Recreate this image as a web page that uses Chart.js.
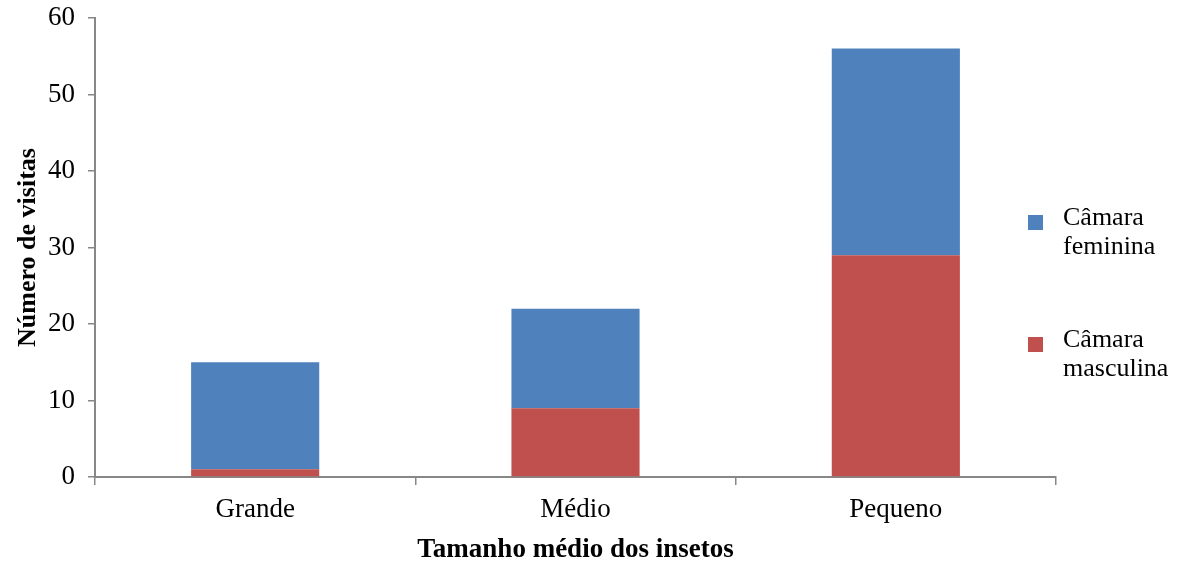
<!DOCTYPE html>
<html>
<head>
<meta charset="utf-8">
<script src="https://cdn.jsdelivr.net/npm/chart.js@4/dist/chart.umd.min.js"></script>
<style>
  html, body { margin: 0; padding: 0; background: #ffffff; }
  #wrap { width: 1178px; height: 564px; position: relative; }
</style>
</head>
<body>
<div id="wrap"><canvas id="c" width="1178" height="564"></canvas></div>
<script>
// Insect size classes and visit counts per flower chamber
const categories = ['Grande', 'Médio', 'Pequeno'];
const visitasMasculina = [1, 9, 29];
const visitasFeminina = [14, 13, 27];
const legendMasculina = ['Câmara', 'masculina'];
const legendFeminina = ['Câmara', 'feminina'];
const yTicks = [0, 10, 20, 30, 40, 50, 60];

const FONT = '"Liberation Serif", "Times New Roman", serif';
const AXIS_GREY = '#878787';

// Two-line legend drawn to the right of the plot, top entry = top of the stack
const sideLegend = {
  id: 'sideLegend',
  afterDraw(chart) {
    const ctx = chart.ctx;
    const area = chart.chartArea;
    const items = chart.data.datasets.slice().reverse();
    const boxX = area.right - 28;
    const textX = area.right + 7;
    const firstBaselines = [225, 347];
    ctx.save();
    ctx.font = '26px ' + FONT;
    ctx.textAlign = 'left';
    ctx.textBaseline = 'alphabetic';
    items.forEach((ds, i) => {
      const base = firstBaselines[i];
      ctx.fillStyle = ds.backgroundColor;
      ctx.fillRect(boxX, base - 10, 15, 15);
      ctx.fillStyle = '#000000';
      ds.legendLines.forEach((line, j) => {
        ctx.fillText(line, textX, base + j * 29);
      });
    });
    ctx.restore();
  }
};

new Chart(document.getElementById('c'), {
  type: 'bar',
  data: {
    labels: categories,
    datasets: [
      {
        label: legendMasculina.join(' '),
        legendLines: legendMasculina,
        data: visitasMasculina,
        backgroundColor: '#C0504D',
        borderWidth: 0,
        categoryPercentage: 0.4,
        barPercentage: 1.0
      },
      {
        label: legendFeminina.join(' '),
        legendLines: legendFeminina,
        data: visitasFeminina,
        backgroundColor: '#4F81BD',
        borderWidth: 0,
        categoryPercentage: 0.4,
        barPercentage: 1.0
      }
    ]
  },
  options: {
    responsive: false,
    animation: false,
    devicePixelRatio: 1,
    layout: { padding: { top: 18, right: 122, left: 0, bottom: 0 } },
    plugins: {
      legend: { display: false },
      tooltip: { enabled: false }
    },
    scales: {
      x: {
        stacked: true,
        offset: true,
        afterFit(scale) { scale.height = 87; },
        border: { display: true, color: AXIS_GREY, width: 2 },
        grid: {
          offset: true,
          drawOnChartArea: false,
          drawTicks: true,
          tickLength: 8,
          color: AXIS_GREY,
          lineWidth: 1.5
        },
        ticks: {
          color: '#000000',
          padding: 9,
          maxRotation: 0,
          font: { family: FONT, size: 27 }
        },
        title: {
          display: true,
          text: 'Tamanho médio dos insetos',
          color: '#000000',
          padding: { top: 0, bottom: -2 },
          font: { family: FONT, size: 27, weight: 'bold' }
        }
      },
      y: {
        stacked: true,
        min: 0,
        max: 60,
        afterFit(scale) {
          scale.width = 95;
          scale.paddingTop = 0;
          scale.paddingBottom = 0;
        },
        afterBuildTicks(scale) { scale.ticks = yTicks.map(v => ({ value: v })); },
        border: { display: true, color: AXIS_GREY, width: 2 },
        grid: {
          drawOnChartArea: false,
          drawTicks: true,
          tickLength: 7,
          color: AXIS_GREY,
          lineWidth: 1.5
        },
        ticks: {
          color: '#000000',
          padding: 13,
          font: { family: FONT, size: 27 }
        },
        title: {
          display: true,
          text: 'Número de visitas',
          color: '#000000',
          padding: { top: 13, bottom: 0 },
          font: { family: FONT, size: 26, weight: 'bold' }
        }
      }
    }
  },
  plugins: [sideLegend]
});
</script>
</body>
</html>
